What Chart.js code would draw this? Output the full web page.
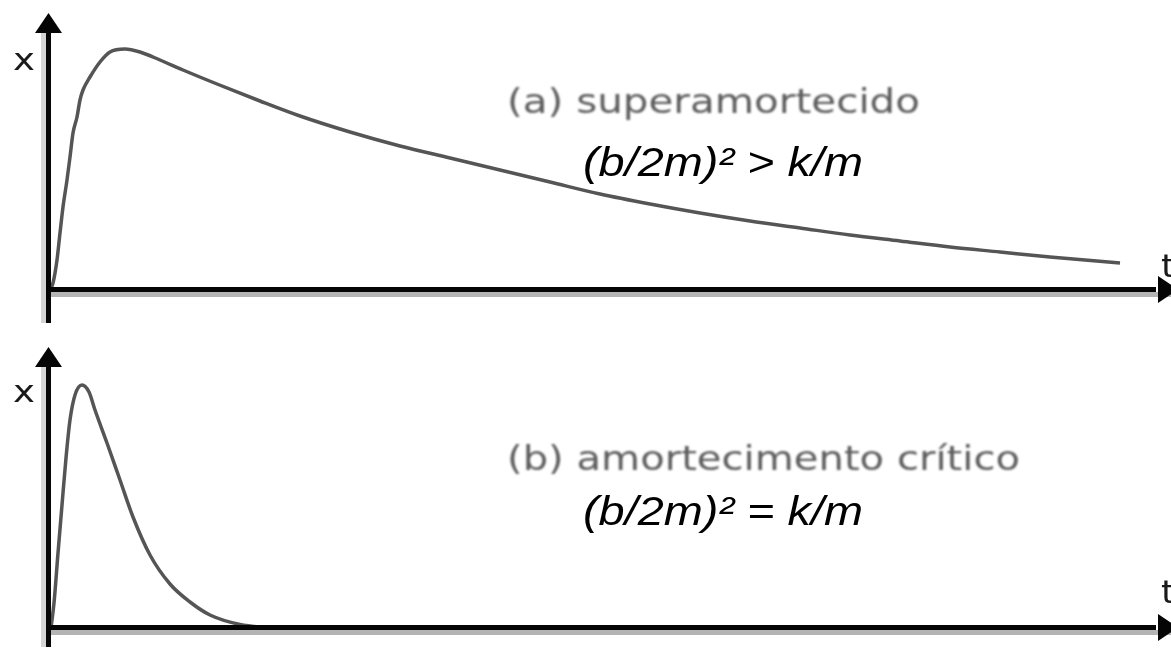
<!DOCTYPE html>
<html>
<head>
<meta charset="utf-8">
<script src="https://cdn.jsdelivr.net/npm/chart.js@4.4.1/dist/chart.umd.min.js"></script>
<style>
  html, body { margin: 0; padding: 0; background: #fff; }
  .panel { position: relative; width: 1171px; height: 324px; }
  canvas { display: block; }
</style>
</head>
<body>
<div class="panel"><canvas id="over" width="1171" height="324"></canvas></div>
<div class="panel"><canvas id="crit" width="1171" height="324"></canvas></div>
<script>
  // (a) overdamped response: time and displacement samples
  const overT = [0.2, 0.5, 0.9, 1.2, 1.5, 1.9, 2.2, 2.5, 2.9, 3.2, 3.5, 4.2, 5.2, 6.2, 7.7, 9.2, 11.2, 13.5, 16.9, 21.2, 25.2, 30.2, 35.2, 40.2, 45.2, 50.2, 55.2, 60.2, 65.2, 70.2, 75.2, 80.2, 85.2, 90.2, 95.2, 100.2, 107.2];
  const overX = [0, 2.8, 12, 22.8, 33.2, 44, 53.2, 62.8, 69.2, 76, 80, 85.2, 91.2, 95.2, 96.4, 95.2, 92, 88, 82.4, 75.6, 69.6, 63.2, 57.6, 52.8, 48, 43.2, 38.4, 34.4, 30.8, 27.6, 24.8, 22, 19.6, 17.2, 15.2, 13.2, 10.8];

  // (b) critically damped response
  const critT = [0.3, 0.6, 1.0, 1.4, 1.8, 2.2, 2.7, 3.4, 4.1, 4.7, 5.9, 7.2, 8.5, 10.2, 12.2, 14.2, 16.2, 19.2, 22.2];
  const critX = [0, 10, 30, 49.2, 68, 83.2, 93.2, 97.2, 94.4, 87.2, 74, 59.2, 44.4, 29.2, 17.6, 10.4, 5.2, 1.4, 0];

  const T_MAX = 112;
  const X_MAX = 100;

  function toPoints(ts, xs) {
    return ts.map((t, i) => ({ x: t, y: xs[i] }));
  }

  // draw a string squeezed/stretched to a given width
  function fitText(ctx, str, font, x, baseline, width, color, blur) {
    ctx.save();
    ctx.font = font;
    ctx.fillStyle = color;
    ctx.textBaseline = "alphabetic";
    if (blur) ctx.filter = `blur(${blur}px)`;
    const w = ctx.measureText(str).width;
    ctx.translate(x, baseline);
    ctx.scale(width / w, 1);
    ctx.fillText(str, 0, 0);
    ctx.restore();
  }

  // arrowed axes + annotations
  const axesPlugin = {
    id: "arrowAxes",
    afterDatasetsDraw(chart, args, o) {
      const ctx = chart.ctx;
      const x0 = chart.scales.x.getPixelForValue(0);
      const y0 = chart.scales.y.getPixelForValue(0);
      const W = chart.width;
      ctx.save();
      // soft grey shadow of the axes
      ctx.fillStyle = "#b4b4b4";
      ctx.fillRect(x0 + 3, y0 + 2, W - x0, 5);
      ctx.fillStyle = "#d4d4d4";
      ctx.fillRect(x0 - 7, o.tipY + 18, 5, o.axisEnd - o.tipY - 18);
      // black axis lines
      ctx.fillStyle = "#050505";
      ctx.fillRect(x0 - 2, o.tipY + 10, 5, o.axisEnd - o.tipY - 10);
      ctx.fillRect(x0 - 2, y0 - 3, 1158 - x0, 5);
      // arrowheads
      ctx.beginPath();
      ctx.moveTo(x0 + 0.5, o.tipY);
      ctx.lineTo(x0 + 14, o.tipY + 20);
      ctx.lineTo(x0 - 13, o.tipY + 20);
      ctx.closePath();
      ctx.fill();
      ctx.beginPath();
      ctx.moveTo(1178, y0 - 0.5);
      ctx.lineTo(1158, y0 - 14);
      ctx.lineTo(1158, y0 + 13);
      ctx.closePath();
      ctx.fill();
      ctx.restore();

      // axis names
      fitText(ctx, "x", '30px "DejaVu Sans"', 13, o.xLabelY, 22, "#1a1a1a", 0.6);
      fitText(ctx, "t", '32px "DejaVu Sans"', 1161, o.tLabelY, 14, "#1a1a1a", 0.6);
      // case caption and condition
      fitText(ctx, o.caption, '34px "DejaVu Sans"', 507, o.captionY, o.captionW, "#5c5c5c", 0.8);
      fitText(ctx, o.condition, 'italic 40px "Liberation Sans"', 583, o.conditionY, 280, "#000", 0);
    }
  };

  function makeChart(id, ts, xs, pad, annot) {
    return new Chart(document.getElementById(id), {
      type: "line",
      data: {
        datasets: [{
          data: toPoints(ts, xs),
          borderColor: "#555",
          borderWidth: 3.5,
          pointRadius: 0,
          fill: false,
          cubicInterpolationMode: "monotone",
        }],
      },
      options: {
        responsive: false,
        animation: false,
        layout: { padding: pad },
        scales: {
          x: { type: "linear", min: 0, max: T_MAX, display: false },
          y: { min: 0, max: X_MAX, display: false },
        },
        plugins: {
          legend: { display: false },
          tooltip: { enabled: false },
          arrowAxes: annot,
        },
      },
      plugins: [axesPlugin],
    });
  }

  makeChart("over", overT, overX, { left: 48, right: 3, top: 40, bottom: 34 }, {
    tipY: 13, axisEnd: 323, xLabelY: 70, tLabelY: 277,
    caption: "(a) superamortecido", captionY: 113, captionW: 413,
    condition: "(b/2m)² > k/m", conditionY: 176,
  });

  makeChart("crit", critT, critX, { left: 48, right: 3, top: 54, bottom: 20 }, {
    tipY: 23, axisEnd: 323, xLabelY: 78, tLabelY: 279,
    caption: "(b) amortecimento crítico", captionY: 146, captionW: 513,
    condition: "(b/2m)² = k/m", conditionY: 201,
  });
</script>
</body>
</html>
